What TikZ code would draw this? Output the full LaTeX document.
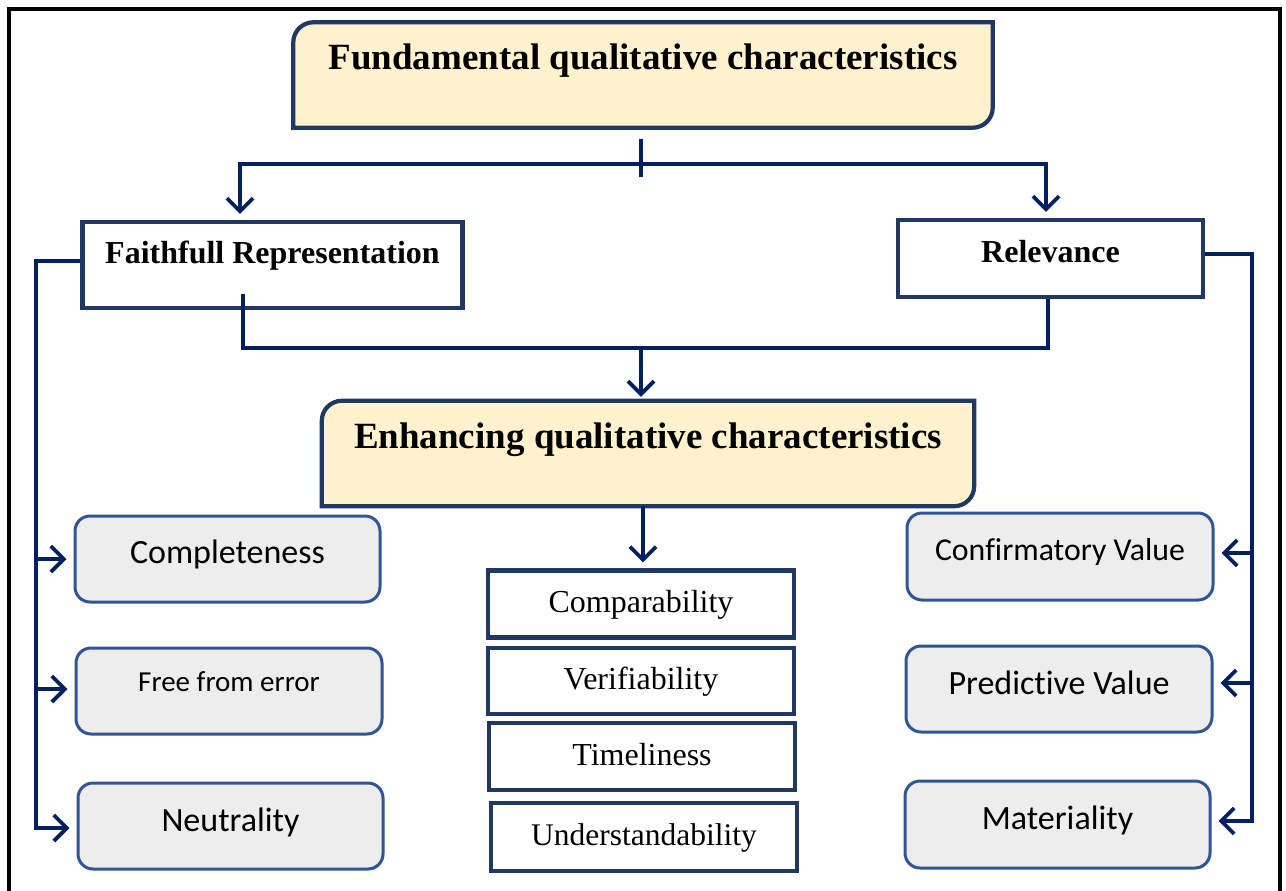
\documentclass[tikz,border=0pt]{standalone}
\usepackage{fontspec}
\setmainfont{Liberation Serif}
\newfontfamily\calfont[Ligatures={NoCommon,NoContextual}]{Carlito}
\usetikzlibrary{arrows.meta,calc}
\definecolor{navy}{HTML}{002060}
\definecolor{boxblue}{HTML}{1F3864}
\definecolor{softblue}{HTML}{2F5597}
\definecolor{cream}{HTML}{FFF2CC}
\definecolor{lgray}{HTML}{EDEDED}
\begin{document}
\begin{tikzpicture}[x=1pt,y=-1pt,
  conn/.style={draw=navy,line width=3.8pt},
  arr/.style={conn,-{Straight Barb[length=13pt,width=26pt,line width=3.8pt]}},
  headbox/.style={rectangle,inner sep=0pt,draw=none},
  headline/.style={draw=boxblue,fill=cream,line width=4.2pt},
  plainbox/.style={rectangle,inner sep=0pt,draw=boxblue,line width=4.2pt},
  greybox/.style={rectangle,rounded corners=15pt,inner sep=0pt,draw=softblue,line width=3pt,fill=lgray},
  headtext/.style={anchor=base,inner sep=0pt,font=\fontsize{37}{40}\selectfont\bfseries},
  subtext/.style={anchor=base,inner sep=0pt,font=\fontsize{32}{36}\selectfont\bfseries},
  midtext/.style={anchor=base,inner sep=0pt,font=\fontsize{32}{36}\selectfont},
  caltext/.style={anchor=base,inner sep=0pt,font=\calfont\fontsize{34}{38}\selectfont}
]
\useasboundingbox (0,0) rectangle (1286,891);
\fill[white] (0,0) rectangle (1286,891);
% outer frame
\draw[black,line width=3.2pt] (9,891) -- (9,9) -- (1280,9) -- (1280,891);

% headline boxes
\node[headbox,minimum width=699pt,minimum height=105pt] (fund) at (643,75) {};
\draw[headline] ($(fund.north west)+(0pt,-20pt)$) arc[start angle=180,end angle=90,radius=20pt]
  -- (fund.north east) -- ($(fund.south east)+(0pt,20pt)$) arc[start angle=0,end angle=-90,radius=20pt]
  -- (fund.south west) -- cycle;
\node[headtext] (fundtext) at (fund.center |- 0,70) {Fundamental qualitative characteristics};

\node[headbox,minimum width=652pt,minimum height=105pt] (enh) at (648,453.5) {};
\draw[headline] ($(enh.north west)+(0pt,-20pt)$) arc[start angle=180,end angle=90,radius=20pt]
  -- (enh.north east) -- ($(enh.south east)+(0pt,20pt)$) arc[start angle=0,end angle=-90,radius=20pt]
  -- (enh.south west) -- cycle;
\node[headtext] (enhtext) at (enh.center |- 0,448) {Enhancing qualitative characteristics};

% second level
\node[plainbox,minimum width=380pt,minimum height=86pt] (faith) at (272.5,265) {};
\node[subtext] (faithtext) at (faith.center |- 0,263) {Faithfull Representation};
\node[plainbox,minimum width=305pt,minimum height=77pt] (rel) at (1050.5,258.5) {};
\node[subtext] (reltext) at (rel.center |- 0,262) {Relevance};

% middle stack
\node[plainbox,minimum width=306pt,minimum height=67pt] (comp) at (641,604) {};
\node[midtext] (comptext) at (comp.center |- 0,612) {Comparability};
\node[plainbox,minimum width=306pt,minimum height=66pt] (ver) at (641,681) {};
\node[midtext] (vertext) at (ver.center |- 0,689) {Verifiability};
\node[plainbox,minimum width=306pt,minimum height=67pt] (tim) at (642,756.5) {};
\node[midtext] (timtext) at (tim.center |- 0,765) {Timeliness};
\node[plainbox,minimum width=306pt,minimum height=68pt] (und) at (644,837) {};
\node[midtext,font=\fontsize{31.5}{36}\selectfont] (undtext) at (und.center |- 0,845) {Understandability};

% left grey boxes
\node[greybox,minimum width=305pt,minimum height=86pt] (cmpl) at (227.5,559) {};
\node[caltext] (cmpltext) at (cmpl.center |- 0,563) {Completeness};
\node[greybox,minimum width=306pt,minimum height=86pt] (free) at (229,691) {};
\node[caltext,font=\calfont\fontsize{29}{33}\selectfont] (freetext) at (free.center |- 0,691) {Free from error};
\node[greybox,minimum width=305pt,minimum height=86pt] (neut) at (230.5,826) {};
\node[caltext] (neuttext) at (neut.center |- 0,831) {Neutrality};

% right grey boxes
\node[greybox,minimum width=306pt,minimum height=87pt] (conf) at (1060,556.5) {};
\node[caltext,font=\calfont\fontsize{31.8}{36}\selectfont] (conftext) at (conf.center |- 0,560) {Confirmatory Value};
\node[greybox,minimum width=306pt,minimum height=86pt] (pred) at (1059,689) {};
\node[caltext] (predtext) at (pred.center |- 0,694) {Predictive Value};
\node[greybox,minimum width=305pt,minimum height=87pt] (mat) at (1057.5,824.5) {};
\node[caltext] (mattext) at (mat.center |- 0,829) {Materiality};

% connectors
\coordinate (tickA) at (641,139);
\coordinate (tickB) at (641,177);
\draw[conn] (tickA) -- (tickB);
\coordinate (split) at (641,164);
\draw[arr,shorten >=6pt] (split) -| (faith.north -| 240,0);
\draw[arr,shorten >=6pt] (split) -| (rel.north -| 1046,0);

\coordinate (fstub) at (243,294);
\coordinate (join) at (641,348);
\draw[conn] (fstub) |- (join) -| (rel.south -| 1048,0);
\draw[arr,shorten >=4pt] (join) -- (enh.north -| join);
\draw[arr,shorten >=6pt] (enh.south -| 643,0) -- (comp.north -| 643,0);

\coordinate (lbus) at (36,261);
\draw[arr,shorten >=7pt] (faith.west |- lbus) -- (lbus) |- (neut.west |- 0,828);
\draw[arr,shorten >=7pt] (lbus |- 0,559) -- (cmpl.west |- 0,559);
\draw[arr,shorten >=7pt] (lbus |- 0,689) -- (free.west |- 0,689);

\coordinate (rbus) at (1252,254);
\draw[arr,shorten >=7pt] (rel.east |- rbus) -- (rbus) |- (mat.east |- 0,821);
\draw[arr,shorten >=7pt] (rbus |- 0,553) -- (conf.east |- 0,553);
\draw[arr,shorten >=7pt] (rbus |- 0,683) -- (pred.east |- 0,683);
\end{tikzpicture}
\end{document}
